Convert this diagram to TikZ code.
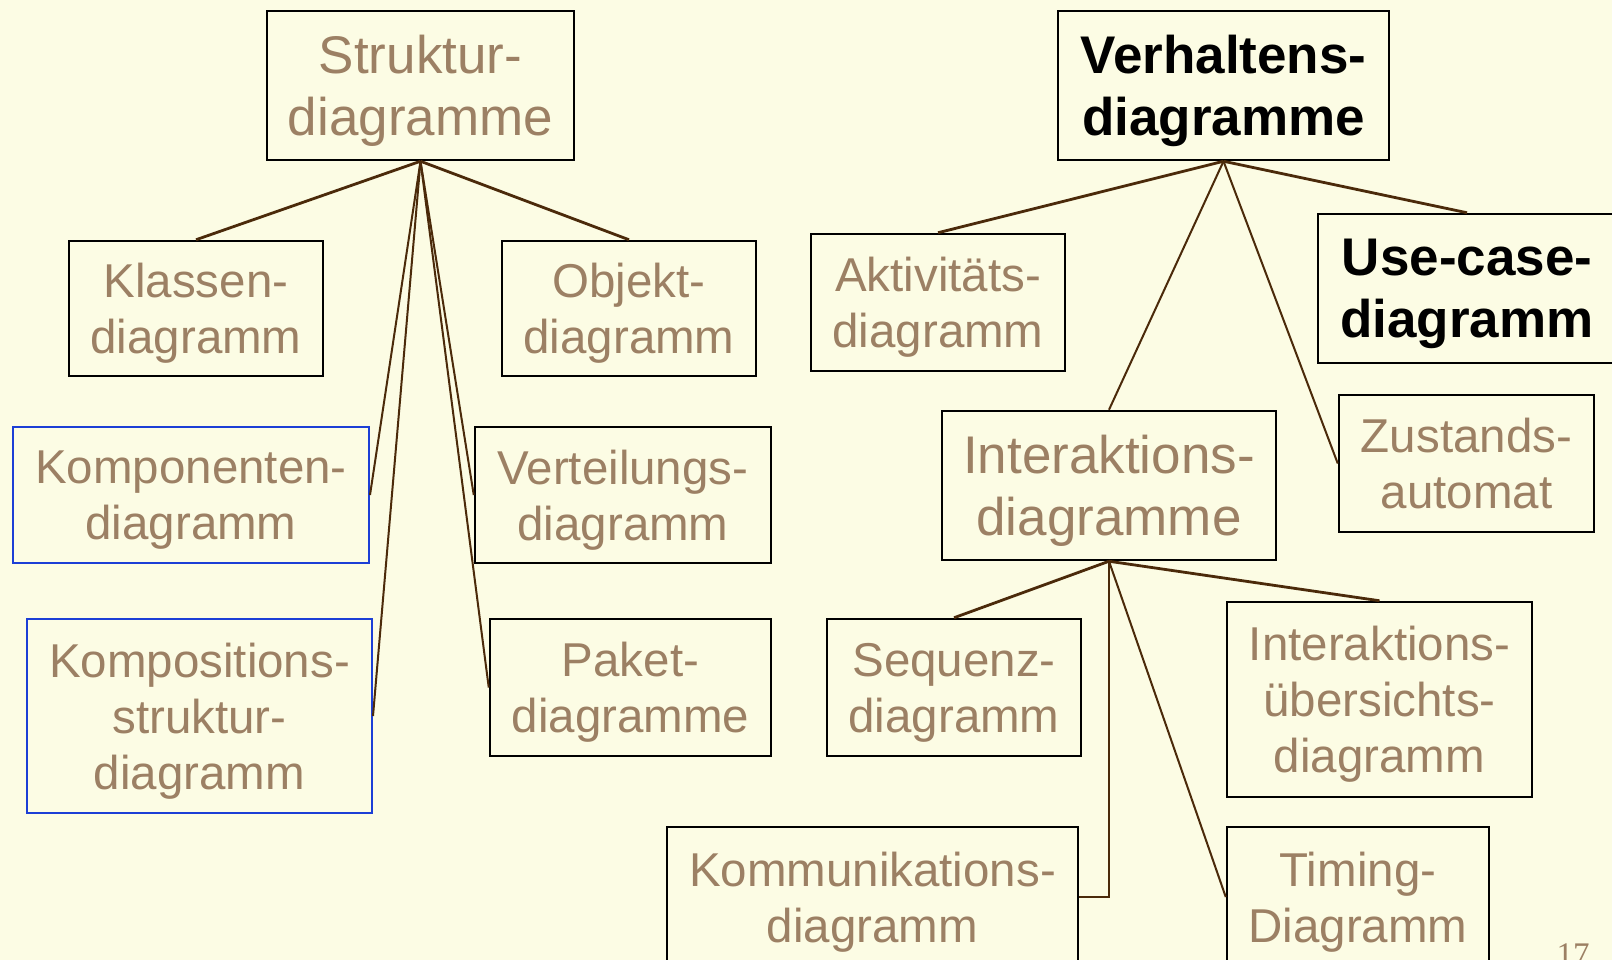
\documentclass[tikz,border=0pt]{standalone}
\usepackage{fontspec}
\setmainfont{Liberation Sans}
\newfontfamily\pagefont{Liberation Serif}
\definecolor{bgc}{RGB}{252,252,228}
\definecolor{tanc}{RGB}{156,128,100}
\definecolor{linec}{RGB}{75,42,10}
\definecolor{bluec}{RGB}{28,63,214}
\tikzset{
  box/.style={draw=black, line width=2.5pt, rectangle, inner sep=0pt, align=center,
    text depth=0pt, text=tanc, font=\fontsize{47.5}{56}\selectfont},
  bigbox/.style={box, font=\fontsize{53}{62}\selectfont},
  boldbox/.style={box, text=black, font=\fontsize{53}{62}\selectfont\bfseries},
  bluebox/.style={box, draw=bluec, line width=2pt},
  thickcon/.style={draw=linec, line width=2.8pt},
  thincon/.style={draw=linec, line width=2pt},
}
\begin{document}
\begin{tikzpicture}[x=1pt,y=-1pt]
\useasboundingbox[fill=bgc] (0,0) rectangle (1612,960);
% left tree
\node[bigbox, minimum width=307pt, minimum height=149pt] (s) at (420.5,85.5) {Struktur-\\diagramme};
\node[box, minimum width=254pt, minimum height=135pt] (kl) at (196,308.5) {Klassen-\\diagramm};
\node[box, minimum width=254pt, minimum height=135pt] (ob) at (629,308.5) {Objekt-\\diagramm};
\node[bluebox, minimum width=356pt, minimum height=136pt] (ko) at (191,495) {Komponenten-\\diagramm};
\node[box, minimum width=296pt, minimum height=136pt] (ve) at (623,495) {Verteilungs-\\diagramm};
\node[bluebox, minimum width=345pt, minimum height=194pt] (kp) at (199.5,716) {Kompositions-\\struktur-\\diagramm};
\node[box, minimum width=281pt, minimum height=137pt] (pa) at (630.5,687.5) {Paket-\\diagramme};
% right tree
\node[boldbox, minimum width=331pt, minimum height=149pt] (v) at (1223.5,85.5) {Verhaltens-\\diagramme};
\node[box, minimum width=254pt, minimum height=137pt] (ak) at (938,302.5) {Aktivitäts-\\diagramm};
\node[boldbox, minimum width=298pt, minimum height=149pt] (uc) at (1467,288.5) {Use-case-\\diagramm};
\node[bigbox, minimum width=334pt, minimum height=149pt] (ia) at (1109,485.5) {Interaktions-\\diagramme};
\node[box, minimum width=255pt, minimum height=137pt] (zu) at (1466.5,463.5) {Zustands-\\automat};
\node[box, minimum width=254pt, minimum height=137pt] (se) at (954,687.5) {Sequenz-\\diagramm};
\node[box, minimum width=305pt, minimum height=195pt] (ue) at (1379.5,699.5) {Interaktions-\\übersichts-\\diagramm};
\node[box, minimum width=411pt, minimum height=140pt] (km) at (872.5,897) {Kommunikations-\\diagramm};
\node[box, minimum width=262pt, minimum height=140pt] (ti) at (1358,897) {Timing-\\Diagramm};
\node[text=tanc, font=\pagefont\fontsize{33}{40}\selectfont, anchor=base, inner sep=0pt] (pg) at (1573,965) {17};
% connectors
\draw[thickcon] (s.south) -- (kl.north);
\draw[thickcon] (s.south) -- (ob.north);
\draw[thincon] (s.south) -- (ko.east);
\draw[thincon] (s.south) -- (kp.east);
\draw[thincon] (s.south) -- (ve.west);
\draw[thincon] (s.south) -- (pa.west);
\draw[thickcon] (v.south) -- (ak.north);
\draw[thickcon] (v.south) -- (uc.north);
\draw[thincon] (v.south) -- (ia.north);
\draw[thincon] (v.south) -- (zu.west);
\draw[thickcon] (ia.south) -- (se.north);
\draw[thickcon] (ia.south) -- (ue.north);
\draw[thincon, line width=2.5pt] (ia.south) |- (km.east);
\draw[thincon] (ia.south) -- (ti.west);
\end{tikzpicture}
\end{document}
